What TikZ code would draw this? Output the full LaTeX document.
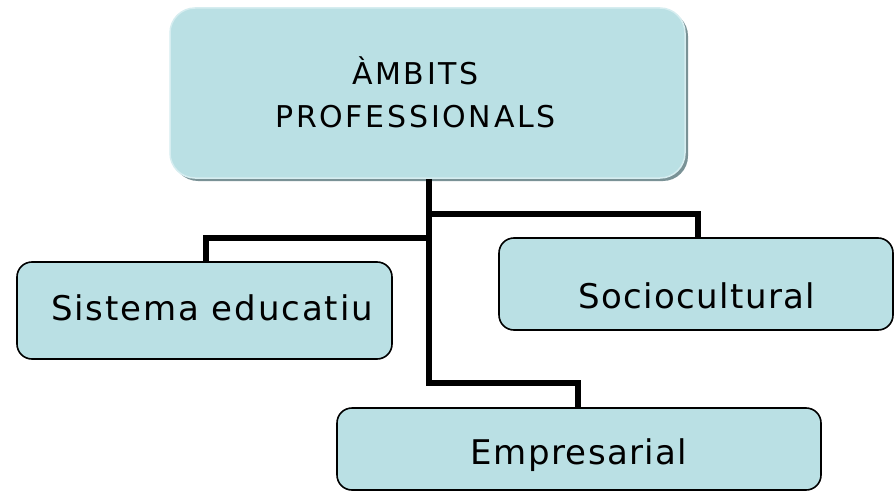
\documentclass[tikz,border=0pt]{standalone}
\usepackage{fontspec}
\setmainfont{DejaVu Sans}
\newfontfamily\leaffont[LetterSpace=4]{DejaVu Sans}
\newfontfamily\sisfont[LetterSpace=5.5]{DejaVu Sans}
\newfontfamily\topfont[LetterSpace=9]{DejaVu Sans}
\definecolor{boxfill}{RGB}{186,224,228}
\definecolor{boxhi}{RGB}{214,237,240}
\definecolor{boxsh}{RGB}{122,146,150}
\begin{document}
\begin{tikzpicture}[x=1pt,y=-1pt,
  leaf/.style={draw=black,line width=1.6pt,fill=boxfill,rounded corners=15pt,
    inner sep=0pt,font=\leaffont\fontsize{34}{40}\selectfont},
  conn/.style={draw=black,line width=5.5pt,line join=miter}]
\useasboundingbox (0,0) rectangle (896,492);
% shadow of top box
\fill[boxsh,rounded corners=25pt] (173,11) rectangle (688,181);
\node[fill=boxfill,draw=boxhi,line width=1.5pt,rounded corners=25pt,
  minimum width=515pt,minimum height=170pt,inner sep=0pt,align=center,
  font=\topfont\fontsize{30}{43}\selectfont] (top) at (427.5,93) {\raisebox{2pt}{\hspace*{-24pt}ÀMBITS}\\\raisebox{2pt}{\hspace*{-24pt}PROFESSIONALS}};
\coordinate (j1) at (429,214);
\coordinate (j2) at (429,238);
\coordinate (j3) at (429,383);
\node[leaf,minimum width=375pt,minimum height=97pt,font=\sisfont\fontsize{34}{40}\selectfont] (sis) at (204.5,310.5) {\hspace*{15pt}\raisebox{-9.5pt}[0pt][0pt]{Sistema educatiu}};
\node[leaf,minimum width=394pt,minimum height=92pt] (soc) at (696,284) {\hspace*{2pt}\raisebox{-24pt}[0pt][0pt]{Sociocultural}};
\node[leaf,minimum width=484pt,minimum height=82pt] (emp) at (579,449) {\raisebox{-15pt}[0pt][0pt]{Empresarial}};
\draw[conn] ([xshift=1.5pt]top.south) |- (j3) -| ([xshift=-1pt]emp.north);
\draw[conn] ([xshift=1.5pt]sis.north) |- (j2);
\draw[conn] ([xshift=2pt]soc.north) |- (j1);
\end{tikzpicture}
\end{document}
